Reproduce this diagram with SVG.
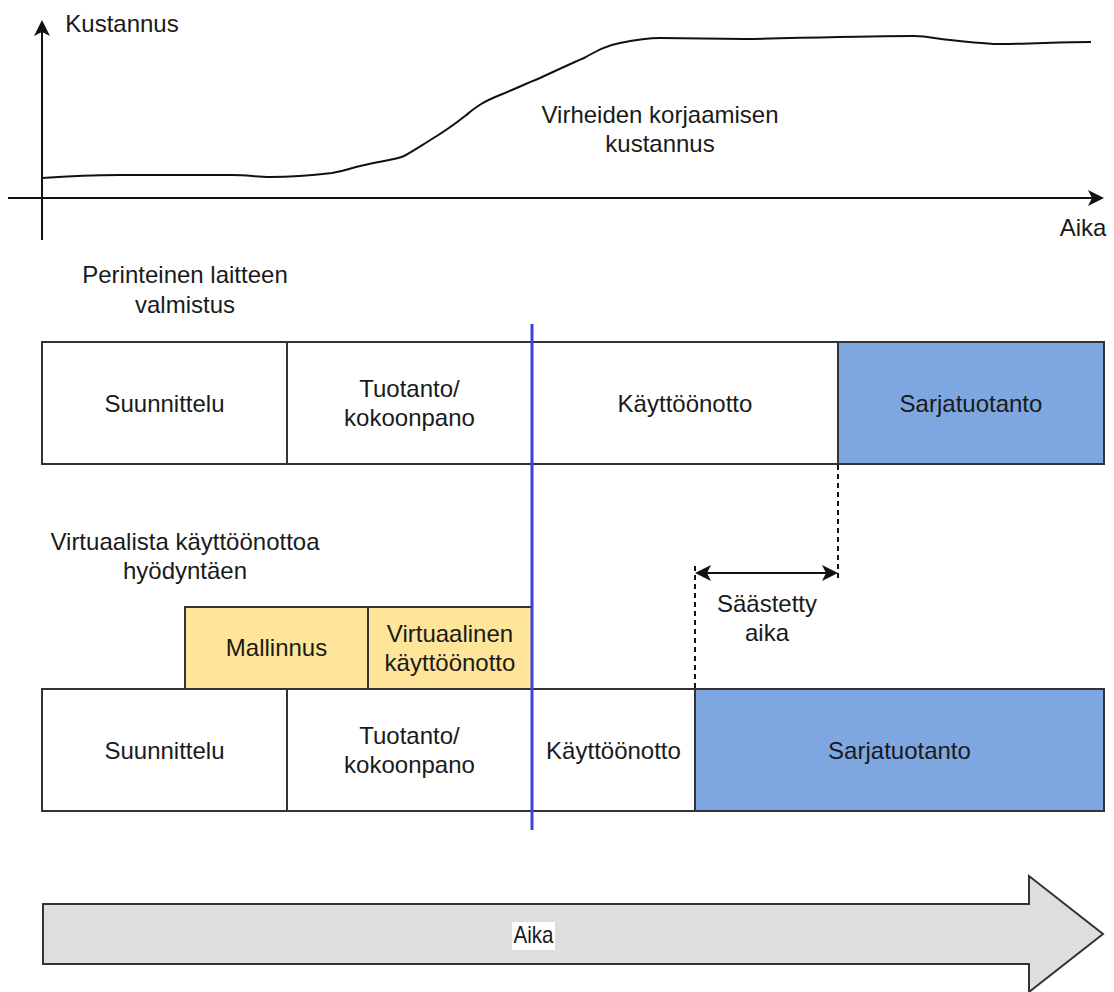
<svg xmlns="http://www.w3.org/2000/svg" width="1114" height="992" viewBox="0 0 1114 992">
<style>
text{font-family:"Liberation Sans",Arial,sans-serif;font-size:24px;fill:#1a1a1a;text-anchor:middle}
.box{stroke:#333;stroke-width:2}
.w{fill:#fff}
.b{fill:#7EA6E0}
.y{fill:#FFE599}
.ax{stroke:#111;stroke-width:2;fill:none}
.dash{stroke:#111;stroke-width:2;stroke-dasharray:5 4;fill:none}
</style>
<defs>
<marker id="ah" viewBox="0 0 16 16" refX="14" refY="8" markerWidth="8" markerHeight="8" markerUnits="userSpaceOnUse" orient="auto-start-reverse">
<path d="M0,0 L16,8 L0,16 L4,8 Z" fill="#111"/>
</marker>
<marker id="ah2" viewBox="0 0 16 16" refX="14" refY="8" markerWidth="16" markerHeight="16" markerUnits="userSpaceOnUse" orient="auto-start-reverse">
<path d="M0,0 L16,8 L0,16 L4,8 Z" fill="#111"/>
</marker>
</defs>
<rect width="1114" height="992" fill="#fff"/>

<g id="chart">
<line class="ax" x1="42" y1="240" x2="42" y2="22" marker-end="url(#ah2)"/>
<line class="ax" x1="8" y1="198" x2="1102" y2="198" marker-end="url(#ah2)"/>
<path class="ax" stroke-linejoin="round" d="M42,178 C70,176 90,175 120,175 L232,175 C248,175 256,177 270,177 C290,177 315,175 332,173 C345,171 350,168 360,166 C380,161 395,160 404,156 C415,150 422,145 432,139 C445,131 455,124 465,116 C475,108 480,103 500,95 C515,89 525,84 540,78 C555,71 570,64 584,58 C595,52 604,46 620,43 C635,40 645,38 660,38 L745,39 C800,38 870,36 914,36 C930,36 935,39 950,40 C970,42 985,44 1001,44 C1030,44 1060,42 1091,42"/>
<text x="122" y="32">Kustannus</text>
<text x="1083" y="236">Aika</text>
<text x="660" y="123">Virheiden korjaamisen</text>
<text x="660" y="152">kustannus</text>
</g>

<g id="label-perinteinen">
<text x="185" y="283">Perinteinen laitteen</text>
<text x="185" y="313">valmistus</text>
</g>

<g id="row1-suunnittelu"><rect class="box w" x="42" y="342" width="245" height="122"/><text x="164.5" y="411.5">Suunnittelu</text></g>
<g id="row1-tuotanto"><rect class="box w" x="287" y="342" width="245" height="122"/><text x="409.5" y="397">Tuotanto/</text><text x="409.5" y="426">kokoonpano</text></g>
<g id="row1-kayttoonotto"><rect class="box w" x="532" y="342" width="306" height="122"/><text x="685" y="411.5">Käyttöönotto</text></g>
<g id="row1-sarjatuotanto"><rect class="box b" x="838" y="342" width="266" height="122"/><text x="971" y="411.5">Sarjatuotanto</text></g>

<g id="label-virtuaalista">
<text x="185" y="550">Virtuaalista käyttöönottoa</text>
<text x="185" y="579">hyödyntäen</text>
</g>

<g id="mallinnus"><rect class="box y" x="185" y="607" width="183" height="82"/><text x="276.5" y="656">Mallinnus</text></g>
<g id="virtuaalinen"><rect class="box y" x="368" y="607" width="164" height="82"/><text x="450" y="641.5">Virtuaalinen</text><text x="450" y="670.5">käyttöönotto</text></g>

<g id="row2-suunnittelu"><rect class="box w" x="42" y="689" width="245" height="122"/><text x="164.5" y="758.5">Suunnittelu</text></g>
<g id="row2-tuotanto"><rect class="box w" x="287" y="689" width="245" height="122"/><text x="409.5" y="744">Tuotanto/</text><text x="409.5" y="773">kokoonpano</text></g>
<g id="row2-kayttoonotto"><rect class="box w" x="532" y="689" width="163" height="122"/><text x="613.5" y="758.5">Käyttöönotto</text></g>
<g id="row2-sarjatuotanto"><rect class="box b" x="695" y="689" width="409" height="122"/><text x="899.5" y="758.5">Sarjatuotanto</text></g>

<g id="saastetty-label">
<text x="767" y="612">Säästetty</text>
<text x="767" y="641">aika</text>
</g>

<g id="connectors">
<line x1="532" y1="324" x2="532" y2="830" stroke="#3b44d8" stroke-width="3"/>
<line class="dash" x1="838" y1="465" x2="838" y2="581"/>
<line class="dash" x1="695" y1="566" x2="695" y2="688"/>
<line class="ax" x1="697" y1="573" x2="836" y2="573" marker-start="url(#ah2)" marker-end="url(#ah2)"/>
</g>

<g id="time-arrow">
<polygon points="43,904 1029,904 1029,876 1103,934 1029,992 1029,964 43,964" fill="#DEDEDE" stroke="#333" stroke-width="2"/>
<rect x="512" y="922" width="43" height="28" fill="#fff"/>
<text x="533.5" y="943" textLength="40" lengthAdjust="spacingAndGlyphs">Aika</text>
</g>
</svg>
